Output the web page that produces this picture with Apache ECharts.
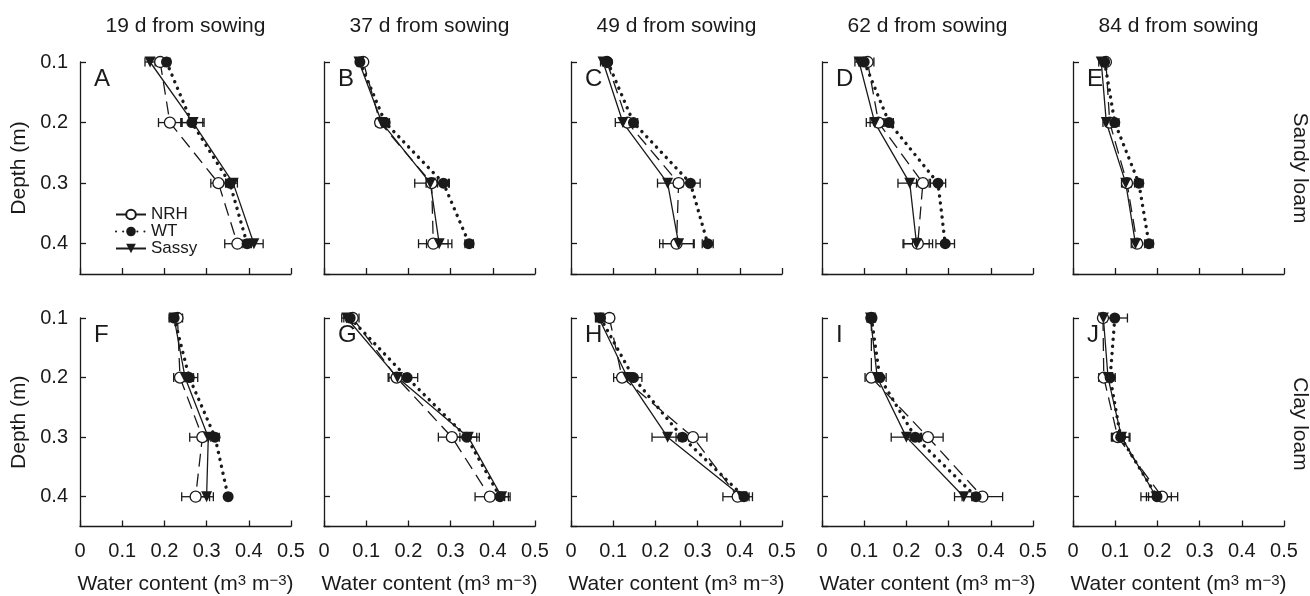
<!DOCTYPE html>
<html>
<head>
<meta charset="utf-8">
<script src="https://cdn.jsdelivr.net/npm/echarts@6/dist/echarts.min.js"></script>
<style>
html,body{margin:0;padding:0;background:#fff;}
#chart{width:1310px;height:596px;}
</style>
</head>
<body>
<div id="chart"></div>
<script>
// ---- data ----
const depths = [0.1, 0.2, 0.3, 0.4];
const panelLetters = ['A','B','C','D','E','F','G','H','I','J'];
const dayTitles = ['19 d from sowing','37 d from sowing','49 d from sowing','62 d from sowing','84 d from sowing'];
const soilLabels = ['Sandy loam','Clay loam'];
const seriesNames = ['NRH','WT','Sassy'];

// water content (m3 m-3) at depths 0.1..0.4 m, panels A..J
const nrhWater = [
  [0.190, 0.213, 0.328, 0.373], // A
  [0.093, 0.133, 0.255, 0.259], // B
  [0.085, 0.134, 0.255, 0.250], // C
  [0.108, 0.134, 0.239, 0.227], // D
  [0.078, 0.087, 0.128, 0.152], // E
  [0.231, 0.237, 0.290, 0.274], // F
  [0.068, 0.172, 0.303, 0.393], // G
  [0.091, 0.121, 0.289, 0.395], // H
  [0.117, 0.117, 0.251, 0.380], // I
  [0.071, 0.073, 0.106, 0.211]  // J
];
const wtWater = [
  [0.205, 0.265, 0.355, 0.396],
  [0.085, 0.145, 0.283, 0.344],
  [0.087, 0.148, 0.283, 0.324],
  [0.100, 0.159, 0.275, 0.292],
  [0.075, 0.099, 0.156, 0.180],
  [0.223, 0.259, 0.320, 0.351],
  [0.062, 0.197, 0.338, 0.417],
  [0.070, 0.148, 0.264, 0.410],
  [0.117, 0.137, 0.221, 0.365],
  [0.099, 0.088, 0.113, 0.199]
];
const sassyWater = [
  [0.166, 0.268, 0.363, 0.412],
  [0.083, 0.137, 0.252, 0.273],
  [0.076, 0.123, 0.229, 0.255],
  [0.088, 0.125, 0.208, 0.224],
  [0.067, 0.079, 0.125, 0.148],
  [0.223, 0.249, 0.304, 0.300],
  [0.054, 0.174, 0.342, 0.421],
  [0.066, 0.134, 0.229, 0.405],
  [0.115, 0.131, 0.200, 0.336],
  [0.072, 0.083, 0.115, 0.197]
];
// standard errors
const nrhErr = [
  [0.008, 0.027, 0.018, 0.030],
  [0.005, 0.010, 0.040, 0.035],
  [0.006, 0.010, 0.010, 0.040],
  [0.015, 0.020, 0.015, 0.035],
  [0.006, 0.010, 0.010, 0.010],
  [0.012, 0.015, 0.030, 0.033],
  [0.015, 0.020, 0.032, 0.035],
  [0.010, 0.020, 0.033, 0.035],
  [0.008, 0.015, 0.036, 0.048],
  [0.008, 0.012, 0.015, 0.037]
];
const wtErr = [
  [0.008, 0.026, 0.010, 0.010],
  [0.005, 0.010, 0.014, 0.010],
  [0.006, 0.010, 0.023, 0.013],
  [0.012, 0.010, 0.018, 0.022],
  [0.008, 0.010, 0.010, 0.010],
  [0.012, 0.020, 0.010, 0.006],
  [0.015, 0.025, 0.030, 0.020],
  [0.010, 0.020, 0.015, 0.012],
  [0.010, 0.015, 0.012, 0.010],
  [0.030, 0.012, 0.020, 0.020]
];
const sassyErr = [
  [0.012, 0.026, 0.010, 0.022],
  [0.005, 0.010, 0.010, 0.030],
  [0.006, 0.018, 0.024, 0.037],
  [0.010, 0.020, 0.028, 0.030],
  [0.006, 0.008, 0.010, 0.010],
  [0.010, 0.020, 0.010, 0.016],
  [0.012, 0.020, 0.020, 0.020],
  [0.008, 0.015, 0.037, 0.012],
  [0.008, 0.010, 0.036, 0.022],
  [0.008, 0.010, 0.020, 0.036]
];

// ---- layout / style ----
const FONT = '"Liberation Sans", Arial, sans-serif';
const INK = '#1a1a1a';
const gridLefts = [80, 324, 571, 822, 1073];
const gridTops = [62, 318];
const GW = 211, GH = 212;

const seriesStyles = {
  NRH:   { symbol:'circle', symbolSize:11, symbolRotate:0, itemStyle:{color:'#fff', borderColor:INK, borderWidth:1.3}, lineStyle:{color:INK, width:1.3, type:[13,7]} },
  WT:    { symbol:'circle', symbolSize:11, symbolRotate:0, itemStyle:{color:INK, borderColor:INK, borderWidth:0}, lineStyle:{color:INK, width:3.4, type:[0.1,7], cap:'round'} },
  Sassy: { symbol:'triangle', symbolSize:11, symbolRotate:180, itemStyle:{color:INK, borderColor:INK, borderWidth:0}, lineStyle:{color:INK, width:1.3, type:'solid'} }
};
const waterBySeries = { NRH: nrhWater, WT: wtWater, Sassy: sassyWater };
const errBySeries = { NRH: nrhErr, WT: wtErr, Sassy: sassyErr };

const grids = [], xAxes = [], yAxes = [], series = [], graphics = [];

for (let k = 0; k < 10; k++) {
  const row = Math.floor(k / 5), col = k % 5;
  grids.push({ left: gridLefts[col], top: gridTops[row], width: GW, height: GH, containLabel: false });
  xAxes.push({
    type:'value', gridIndex:k, min:0, max:0.5, interval:0.1,
    axisLine:{ show:true, onZero:false, lineStyle:{color:INK, width:1.3} },
    axisTick:{ show:true, inside:true, length:6, lineStyle:{color:INK, width:1.3} },
    axisLabel:{ show: row === 1, margin:15, fontSize:20, fontFamily:FONT, color:INK,
      formatter: v => (Math.round(v*10)/10).toString() },
    splitLine:{ show:false },
    name: row === 1 ? 'Water content (m{sup|3} m{sup|\u22123})' : '',
    nameLocation:'middle', nameGap:47,
    nameTextStyle:{ fontSize:21, fontFamily:FONT, color:INK,
      rich:{ sup:{ fontSize:15, fontFamily:FONT, color:INK, verticalAlign:'top', padding:[0,0,7,0] } } }
  });
  yAxes.push({
    type:'value', gridIndex:k, min:0.1, max:0.45, interval:0.1, inverse:true,
    axisLine:{ show:true, onZero:false, lineStyle:{color:INK, width:1.3} },
    axisTick:{ show:true, inside:true, length:6, lineStyle:{color:INK, width:1.3} },
    axisLabel:{ show: col === 0, margin:12, fontSize:20, fontFamily:FONT, color:INK, showMaxLabel:false,
      formatter: v => (Math.abs(v - 0.45) < 1e-6 ? '' : (Math.round(v*10)/10).toFixed(1)) },
    splitLine:{ show:false },
    name: col === 0 ? 'Depth (m)' : '',
    nameLocation:'middle', nameGap:50, nameRotate:90,
    nameTextStyle:{ fontSize:21, fontFamily:FONT, color:INK }
  });

  // error bars
  seriesNames.forEach(name => {
    const vals = waterBySeries[name][k], errs = errBySeries[name][k];
    series.push({
      type:'custom', xAxisIndex:k, yAxisIndex:k, silent:true, z:1,
      data: depths.map((d, j) => [vals[j], d, errs[j]]),
      encode:{ x:0, y:1 },
      renderItem: (params, api) => {
        const x = api.value(0), y = api.value(1), e = api.value(2);
        const a = api.coord([x - e, y]), b = api.coord([x + e, y]);
        const h = 4.5;
        const st = { stroke: INK, lineWidth: 1.3 };
        return { type:'group', children:[
          { type:'line', shape:{x1:a[0], y1:a[1], x2:b[0], y2:b[1]}, style:st },
          { type:'line', shape:{x1:a[0], y1:a[1]-h, x2:a[0], y2:a[1]+h}, style:st },
          { type:'line', shape:{x1:b[0], y1:b[1]-h, x2:b[0], y2:b[1]+h}, style:st }
        ]};
      }
    });
  });

  // lines with markers
  seriesNames.forEach(name => {
    const s = seriesStyles[name];
    const vals = waterBySeries[name][k];
    series.push({
      type:'line', name, xAxisIndex:k, yAxisIndex:k, z:3,
      data: depths.map((d, j) => [vals[j], d]),
      symbol: s.symbol, symbolSize: s.symbolSize, symbolRotate: s.symbolRotate,
      showAllSymbol:true, itemStyle: s.itemStyle, lineStyle: s.lineStyle,
      emphasis:{ disabled:true }, clip:false
    });
  });

  // panel letter
  graphics.push({ type:'text', x: gridLefts[col] + 14, y: gridTops[row] + 17,
    style:{ text: panelLetters[k], fill: INK, fontSize:24, fontFamily:FONT, align:'left', verticalAlign:'middle' } });
}

dayTitles.forEach((t, i) => {
  graphics.push({ type:'text', x: gridLefts[i] + GW/2, y: 26,
    style:{ text:t, fill:INK, fontSize:21, fontFamily:FONT, align:'center', verticalAlign:'middle' } });
});
soilLabels.forEach((t, r) => {
  graphics.push({ type:'text', x: 1300, y: gridTops[r] + GH/2, rotation: -Math.PI/2,
    style:{ text:t, fill:INK, fontSize:21, fontFamily:FONT, align:'center', verticalAlign:'middle' } });
});

const chart = echarts.init(document.getElementById('chart'), null, { renderer:'canvas' });
chart.setOption({
  animation:false,
  backgroundColor:'#fff',
  grid: grids, xAxis: xAxes, yAxis: yAxes, series,
  legend:{
    orient:'vertical', left:110, top:201, itemWidth:30, itemHeight:12, itemGap:0,
    data: seriesNames, selectedMode:false,
    textStyle:{ fontSize:17, fontFamily:FONT, color:INK, lineHeight:14 }
  },
  graphic: graphics
});
</script>
</body>
</html>
